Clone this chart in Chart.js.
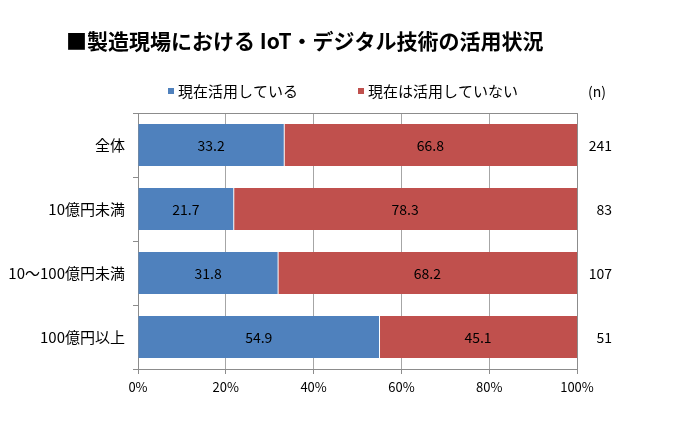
<!DOCTYPE html>
<html>
<head>
<meta charset="utf-8">
<script src="https://cdn.jsdelivr.net/npm/chart.js@4/dist/chart.umd.min.js"></script>
<style>
    html, body { margin: 0; padding: 0; background: #fff; }
    #chart { display: block; }
</style>
</head>
<body>
<canvas id="chart" width="681" height="429"></canvas>
<script>
const titleText = '■製造現場における IoT・デジタル技術の活用状況';
const categories = ['全体', '10億円未満', '10～100億円未満', '100億円以上'];
const usingNow = [33.2, 21.7, 31.8, 54.9];
const notUsing = [66.8, 78.3, 68.2, 45.1];
const counts = [241, 83, 107, 51];
const seriesNames = ['現在活用している', '現在は活用していない'];
const xTicks = [0, 20, 40, 60, 80, 100];

const FONT = '"Noto Sans CJK JP", "Noto Sans", sans-serif';
const BLUE = '#4F81BD';
const RED = '#C0504D';
const AXIS_GRAY = '#8c8c8c';

// title, legend, n column, frame and value labels
const decorPlugin = {
    id: 'decor',
    afterDatasetsDraw(chart) {
        const ctx = chart.ctx;
        const area = chart.chartArea;
        const yScale = chart.scales.y;

        ctx.save();

        // top and right frame
        ctx.strokeStyle = AXIS_GRAY;
        ctx.lineWidth = 1;
        ctx.beginPath();
        ctx.moveTo(area.left, area.top + 0.5);
        ctx.lineTo(area.right + 0.5, area.top + 0.5);
        ctx.lineTo(area.right + 0.5, area.bottom);
        ctx.stroke();

        // value labels inside bars
        ctx.fillStyle = '#000';
        ctx.font = '14px ' + FONT;
        ctx.textAlign = 'center';
        ctx.textBaseline = 'middle';
        chart.data.datasets.forEach((ds, i) => {
            const meta = chart.getDatasetMeta(i);
            meta.data.forEach((bar, j) => {
                const cx = (bar.x + bar.base) / 2;
                ctx.fillText(ds.data[j].toFixed(1), cx, bar.y + 1);
            });
        });

        // n column
        ctx.textAlign = 'right';
        counts.forEach((n, j) => {
            ctx.fillText(String(n), 612, yScale.getPixelForValue(j) + 1);
        });
        ctx.textAlign = 'center';
        ctx.fillText('(n)', 597, 92);

        // title
        ctx.font = 'bold 21px ' + FONT;
        ctx.textAlign = 'left';
        ctx.fillText(titleText, 66, 41);

        // legend
        ctx.font = '15px ' + FONT;
        const legendItems = [
            { x: 168, color: BLUE, label: seriesNames[0] },
            { x: 358, color: RED, label: seriesNames[1] },
        ];
        legendItems.forEach(item => {
            ctx.fillStyle = item.color;
            ctx.fillRect(item.x, 88, 6, 6);
            ctx.fillStyle = '#000';
            ctx.fillText(item.label, item.x + 10, 91);
        });

        ctx.restore();
    },
};

new Chart(document.getElementById('chart'), {
    type: 'bar',
    data: {
        labels: categories,
        datasets: [
            {
                label: seriesNames[0],
                data: usingNow,
                backgroundColor: BLUE,
                borderWidth: 0,
                barPercentage: 0.655,
                categoryPercentage: 1,
            },
            {
                label: seriesNames[1],
                data: notUsing,
                backgroundColor: RED,
                borderColor: '#ffffff',
                borderWidth: { left: 1, right: 0, top: 0, bottom: 0 },
                borderSkipped: false,
                barPercentage: 0.655,
                categoryPercentage: 1,
            },
        ],
    },
    options: {
        indexAxis: 'y',
        responsive: false,
        animation: false,
        devicePixelRatio: 1,
        layout: { padding: { top: 113, right: 104, left: 0, bottom: 0 } },
        plugins: {
            legend: { display: false },
            title: { display: false },
            tooltip: { enabled: false },
        },
        scales: {
            x: {
                stacked: true,
                min: 0,
                max: 100,
                afterBuildTicks: (scale) => {
                    scale.ticks = xTicks.map(v => ({ value: v }));
                },
                afterFit: (scale) => { scale.height = 60; },
                grid: {
                    color: '#a6a6a6',
                    lineWidth: 1,
                    drawTicks: true,
                    tickLength: 5,
                    tickColor: AXIS_GRAY,
                },
                border: { color: AXIS_GRAY, width: 1 },
                ticks: {
                    color: '#000',
                    font: { family: FONT, size: 13 },
                    padding: 5,
                    callback: (v) => v + '%',
                },
            },
            y: {
                stacked: true,
                afterFit: (scale) => { scale.width = 138; },
                grid: {
                    drawOnChartArea: false,
                    drawTicks: true,
                    tickLength: 5,
                    color: AXIS_GRAY,
                },
                border: { color: AXIS_GRAY, width: 1 },
                ticks: {
                    color: '#000',
                    font: { family: FONT, size: 15 },
                    padding: 8,
                },
            },
        },
    },
    plugins: [decorPlugin],
});
</script>
</body>
</html>
